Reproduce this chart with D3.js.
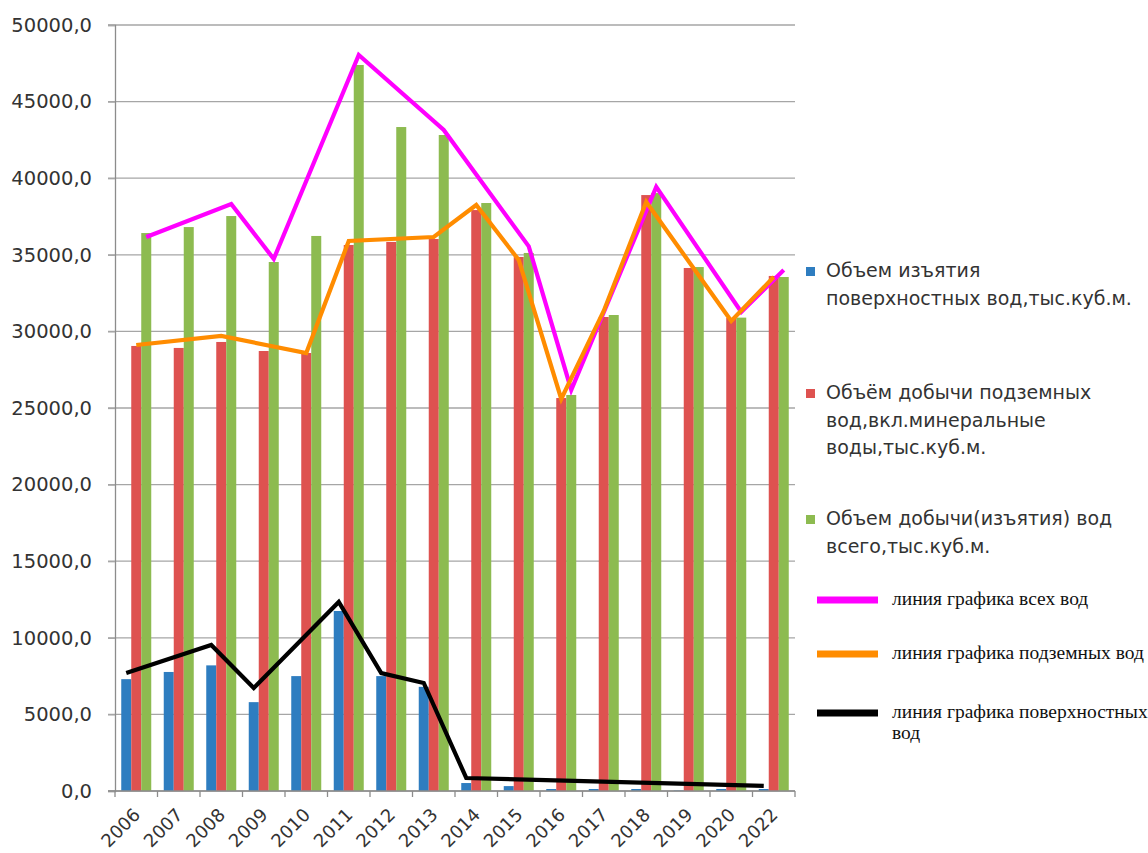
<!DOCTYPE html>
<html>
<head>
<meta charset="utf-8">
<script src="https://cdn.jsdelivr.net/npm/d3@7"></script>
<style>
  body { margin: 0; background: #fff; }
  svg { display: block; }
</style>
</head>
<body>
<script>
// categories
var years = ["2006","2007","2008","2009","2010","2011","2012","2013","2014","2015","2016","2017","2018","2019","2020","2022"];

// bar series, тыс.куб.м.
var surface     = [7300, 7770, 8200, 5800, 7500, 11750, 7500, 6800, 520, 320, 130, 130, 130, 30, 130, 130];
var underground = [29050, 28920, 29310, 28720, 28590, 35640, 35840, 36030, 37920, 34860, 25650, 30940, 38900, 34140, 30880, 33620];
var total       = [36420, 36810, 37530, 34530, 36230, 47390, 43340, 42820, 38380, 35120, 25850, 31070, 39030, 34200, 30900, 33550];

// hand drawn trend lines (only the vertices that show in the picture)
var allYears = ["2006","2008","2009","2011","2013","2015","2016","2018","2020","2022"];
var allVals  = [36160, 38320, 34730, 48040, 43150, 35550, 26180, 39430, 31270, 34010];
var undYears = ["2006","2008","2010","2011","2013","2014","2015","2016","2017","2018","2020","2022"];
var undVals  = [29110, 29700, 28590, 35900, 36160, 38250, 34660, 25590, 31330, 38450, 30680, 33550];
var surYears = ["2006","2008","2009","2011","2012","2013","2014","2022"];
var surVals  = [7700, 9530, 6720, 12340, 7700, 7050, 850, 330];

var yTicks = [0, 5000, 10000, 15000, 20000, 25000, 30000, 35000, 40000, 45000, 50000];

var barLines = [["Объем изъятия", "поверхностных вод,тыс.куб.м."],
                ["Объём добычи подземных", "вод,вкл.минеральные", "воды,тыс.куб.м."],
                ["Объем добычи(изъятия) вод", "всего,тыс.куб.м."]];
var lineLines = [["линия графика всех вод"],
                 ["линия графика подземных вод"],
                 ["линия графика поверхностных", "вод"]];

var barColors = ["#2E7DC0", "#DE5250", "#8DBB50"];
var lineColors = ["#FF00FF", "#FF8C00", "#000000"];

var width = 1148, height = 853;
var plotL = 115, plotR = 795, plotT = 25, plotB = 791;

var svg = d3.select("body").append("svg")
    .attr("width", width)
    .attr("height", height);

var x = d3.scaleBand().domain(years).range([plotL, plotR]).padding(0);
var xi = d3.scaleBand().domain(["s","u","t"]).range([0, x.bandwidth()])
    .paddingInner(0).paddingOuter(0.625);
var y = d3.scaleLinear().domain([0, 50000]).range([plotB, plotT]);

var locale = d3.formatLocale({decimal: ",", thousands: "", grouping: [3], currency: ["", ""]});
var fmt = locale.format(".1f");

//gridlines
svg.append("g").selectAll("line")
    .data(yTicks)
    .enter().append("line")
      .attr("x1", plotL - 7)
      .attr("x2", plotR)
      .attr("y1", function(d) { return y(d); })
      .attr("y2", function(d) { return y(d); })
      .attr("stroke", "#a6a6a6")
      .attr("stroke-width", 1.3);

//y axis
var yAxis = svg.append("g")
    .attr("transform", "translate(" + plotL + ",0)")
    .call(d3.axisLeft(y).tickValues(yTicks).tickSize(7).tickPadding(16).tickFormat(fmt));
yAxis.select(".domain").attr("stroke", "#8c8c8c").attr("stroke-width", 1.3);
yAxis.selectAll(".tick line").attr("stroke", "#a6a6a6").attr("stroke-width", 1.3);
yAxis.selectAll("text")
    .attr("font-family", "DejaVu Sans, Verdana, sans-serif")
    .attr("font-size", 19.5)
    .attr("fill", "#333");

//bars
var series = [surface, underground, total];
var keys = ["s", "u", "t"];
series.forEach(function(vals, k) {
  svg.append("g").selectAll("rect")
    .data(vals)
    .enter().append("rect")
      .attr("x", function(d, i) { return x(years[i]) + xi(keys[k]); })
      .attr("width", xi.bandwidth())
      .attr("y", function(d) { return y(d); })
      .attr("height", function(d) { return plotB - y(d); })
      .attr("fill", barColors[k]);
});

//x axis
var xAxis = svg.append("g")
    .attr("transform", "translate(0," + plotB + ")")
    .call(d3.axisBottom(x).tickSize(0).tickPadding(0));
xAxis.select(".domain").remove();
xAxis.selectAll("text")
    .attr("y", 0)
    .attr("dy", 0)
    .attr("text-anchor", "end")
    .attr("transform", "translate(5,25) rotate(-45)")
    .attr("font-family", "DejaVu Sans, Verdana, sans-serif")
    .attr("font-size", 18)
    .attr("fill", "#333");

svg.append("line")
    .attr("x1", plotL - 7).attr("x2", plotR)
    .attr("y1", plotB).attr("y2", plotB)
    .attr("stroke", "#8c8c8c").attr("stroke-width", 1.3);
svg.append("g").selectAll("line")
    .data(years.concat(["end"]))
    .enter().append("line")
      .attr("x1", function(d) { return d == "end" ? plotR : x(d); })
      .attr("x2", function(d) { return d == "end" ? plotR : x(d); })
      .attr("y1", plotB)
      .attr("y2", plotB + 6)
      .attr("stroke", "#8c8c8c").attr("stroke-width", 1.3);

//trend lines, each one sits on its own bar column
var lineSets = [[allYears, allVals, "t"], [undYears, undVals, "u"], [surYears, surVals, "s"]];
lineSets.forEach(function(s, k) {
  var pts = s[0].map(function(yr, i) {
    return [x(yr) + xi(s[2]) + xi.bandwidth() / 2, y(s[1][i])];
  });
  svg.append("path")
    .attr("d", d3.line()(pts))
    .attr("fill", "none")
    .attr("stroke", lineColors[k])
    .attr("stroke-width", 4.2)
    .attr("stroke-linejoin", "miter");
});

//legend for bars
var legY = [277, 399, 525];
barLines.forEach(function(lines, k) {
  var g = svg.append("g").attr("transform", "translate(806," + legY[k] + ")");
  g.append("rect")
    .attr("x", 0).attr("y", -10)
    .attr("width", 9).attr("height", 9)
    .attr("fill", barColors[k]);
  var t = g.append("text")
    .attr("font-family", "DejaVu Sans, Verdana, sans-serif")
    .attr("font-size", 19)
    .attr("fill", "#333");
  t.selectAll("tspan")
    .data(lines)
    .enter().append("tspan")
      .attr("x", 20)
      .attr("y", function(d, i) { return i * 27.5; })
      .text(function(d) { return d; });
});

//legend for lines
var lineLegY = [600, 654, 713];
lineLines.forEach(function(lines, k) {
  var g = svg.append("g").attr("transform", "translate(817," + lineLegY[k] + ")");
  g.append("line")
    .attr("x1", 0).attr("x2", 61)
    .attr("y1", 0).attr("y2", 0)
    .attr("stroke", lineColors[k])
    .attr("stroke-width", 7);
  var t = g.append("text")
    .attr("font-family", "Liberation Serif, Times New Roman, serif")
    .attr("font-size", 19.5)
    .attr("fill", "#111");
  t.selectAll("tspan")
    .data(lines)
    .enter().append("tspan")
      .attr("x", 75)
      .attr("y", function(d, i) { return 5 + i * 21; })
      .text(function(d) { return d; });
});
</script>
</body>
</html>
